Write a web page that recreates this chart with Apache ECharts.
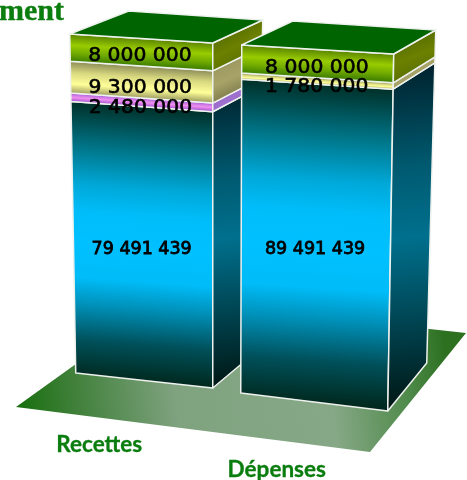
<!DOCTYPE html>
<html><head><meta charset="utf-8">
<style>html,body{margin:0;padding:0;background:#fff}#c{width:467px;height:480px}</style>
<script src="https://cdn.jsdelivr.net/npm/echarts@6/dist/echarts.min.js"></script>
</head><body><div id="c"></div>
<script>
// ---- data ----
const categories = ['Recettes', 'Dépenses'];
const bleu  = [79491439, 89491439];
const rose  = [2480000, 0];
const jaune = [9300000, 1780000];
const vert  = [8000000, 8000000];
const titleFragment = 'ment';

// ---- drawing: perspective box, offsets from category centre and axis zero ----
const box = [
  {fbl:[-65.5,-15], fbr:[71.5,0], ftl:[-71.5,-354], ftr:[71.5,-345], bbr:[114.5,-36], btr:[121.5,-368], btl:[-12.5,-377], labelU:.49, nameDx:-42, nameDy:57},
  {fbl:[-75,5], fbr:[72,23], ftl:[-74,-343], ftr:[78,-334], bbr:[111,-25], btr:[120,-358], btl:[-23,-367], labelU:.495, nameDx:-39, nameDy:82}
];
const labelShift = [6.5, 6, 6.5, 4];
const palette = {
  bleu:  {front:[[0,'#003028'],[.17,'#00788c'],[.30,'#00a8d8'],[.40,'#00bdfa'],[.52,'#00c0ff'],[.64,'#00bcf8'],[.74,'#0090b8'],[.87,'#00505a'],[1,'#002a20']],
          side:[[0,'#00202a'],[.3,'#005a70'],[.5,'#00708e'],[.7,'#004c5c'],[1,'#001410']]},
  rose:  {front:[[0,'#a860d8'],[.5,'#f090f0'],[1,'#a050d0']], side:[[0,'#9060c0'],[.5,'#a070d0'],[1,'#704090']]},
  jaune: {front:[[0,'#8c8c58'],[.35,'#d8d880'],[.7,'#ffff99'],[1,'#9c9c60']], side:[[0,'#8f8c58'],[.5,'#a8a468'],[1,'#605c38']]},
  vert:  {front:[[0,'#5a8400'],[.4,'#99cc00'],[.7,'#70aa00'],[1,'#3c7c00']], side:[[0,'#4c6400'],[.5,'#6c8000'],[1,'#506800']]}
};
const stack = [['bleu',bleu],['rose',rose],['jaune',jaune],['vert',vert]];
const total = Math.max(...categories.map((_, i) => stack.reduce((s, [, a]) => s + a[i], 0)));
const rows = [];
categories.forEach((_, i) => {
  let acc = 0;
  stack.forEach(([name, arr], k) => {
    if (arr[i] > 0) { rows.push([i, acc, acc + arr[i], k]); acc += arr[i]; }
  });
});
const lerp = (a, b, t) => [a[0] + (b[0] - a[0]) * t, a[1] + (b[1] - a[1]) * t];
const fmt = v => String(v).replace(/\B(?=(\d{3})+(?!\d))/g, ' ');
const WHITE = {stroke:'#eef2ee', lineWidth:1.5, lineJoin:'round'};

function renderItem(params, api) {
  const cat = api.value(0), v0 = api.value(1), v1 = api.value(2), k = api.value(3);
  const b = box[cat], name = stack[k][0], pal = palette[name];
  const origin = api.coord([cat, 0]);
  const yTop = api.coord([cat, total])[1];
  const frac = v => (origin[1] - api.coord([cat, v])[1]) / (origin[1] - yTop);
  const abs = o => [origin[0] + o[0], origin[1] + o[1]];
  const fbl = abs(b.fbl), fbr = abs(b.fbr), ftl = abs(b.ftl), ftr = abs(b.ftr), bbr = abs(b.bbr), btr = abs(b.btr), btl = abs(b.btl);
  const h0 = frac(v0), h1 = frac(v1);
  const fl0 = lerp(fbl, ftl, h0), fl1 = lerp(fbl, ftl, h1), fr0 = lerp(fbr, ftr, h0), fr1 = lerp(fbr, ftr, h1);
  const br0 = lerp(bbr, btr, h0), br1 = lerp(bbr, btr, h1);
  // gradient on the front follows the tilt of the segment edges
  const c1 = lerp(fl1, fr1, .5), c0 = lerp(fl0, fr0, .5);
  const dx = fr1[0] - fl1[0], dy = fr1[1] - fl1[1], len = Math.hypot(dx, dy), nx = -dy / len, ny = dx / len;
  const d = (c0[0] - c1[0]) * nx + (c0[1] - c1[1]) * ny;
  const stops = s => s.map(([offset, color]) => ({offset, color}));
  const children = [
    {type:'polygon', shape:{points:[fl1, fr1, fr0, fl0]}, style:{...WHITE,
      fill:{type:'linear', global:true, x:c1[0], y:c1[1], x2:c1[0] + nx * d, y2:c1[1] + ny * d, colorStops:stops(pal.front)}}},
    {type:'polygon', shape:{points:[fr1, br1, br0, fr0]}, style:{...WHITE,
      fill:{type:'linear', x:.25, y:0, x2:.75, y2:1, colorStops:stops(pal.side)}}}
  ];
  if (v1 >= total) {
    children.push({type:'polygon', shape:{points:[ftl, btl, btr, ftr]}, style:{...WHITE, fill:'#006400'}});
  }
  return {type:'group', children};
}
function renderLabels(params, api) {
  const cat = api.value(0), v0 = api.value(1), v1 = api.value(2), k = api.value(3);
  const b = box[cat];
  const origin = api.coord([cat, 0]);
  const yTop = api.coord([cat, total])[1];
  const frac = v => (origin[1] - api.coord([cat, v])[1]) / (origin[1] - yTop);
  const abs = o => [origin[0] + o[0], origin[1] + o[1]];
  const mid = (frac(v0) + frac(v1)) / 2;
  const p = lerp(lerp(abs(b.fbl), abs(b.ftl), mid), lerp(abs(b.fbr), abs(b.ftr), mid), b.labelU);
  const big = k === 0;
  const children = [{type:'text', x:p[0], y:p[1] + labelShift[k], scaleX: big ? 1 : 1.07, originX:0, style:{
    text:fmt(v1 - v0), fill:'#000', stroke:'#000', lineWidth: big ? .8 : .6,
    font:(big ? 17.5 : 19) + 'px "DejaVu Sans"', align:'center', verticalAlign:'middle'}}];
  if (k === 0) {
    children.push({type:'text', x:origin[0] + b.nameDx, y:origin[1] + b.nameDy, style:{
      text:categories[cat], fill:'#0a7d0e', stroke:'#0a7d0e', lineWidth:.3, font:'bold 22.5px Lato', align:'center', verticalAlign:'middle'}});
  }
  return {type:'group', children};
}

const chart = echarts.init(document.getElementById('c'), null, {renderer:'canvas'});
chart.setOption({
  animation:false,
  backgroundColor:'#fff',
  grid:{left:54, right:64, top:43, bottom:92},
  xAxis:{type:'category', data:categories, show:false},
  yAxis:{type:'value', min:0, max:total, show:false},
  graphic:[
    {type:'polygon', z:0, shape:{points:[[16,407],[165,300],[466,333],[370,452]]},
     style:{fill:{type:'linear', global:true, x:20, y:400, x2:445, y2:345, colorStops:[
       {offset:0,color:'#1a7010'},{offset:.12,color:'#3e7f38'},{offset:.36,color:'#7fa27f'},{offset:.72,color:'#86a886'},{offset:.9,color:'#4f8a4a'},{offset:1,color:'#2c7020'}]}}},
    {type:'text', z:5, x:-1, y:12, style:{text:titleFragment, fill:'#0a7d0e', stroke:'#0a7d0e', lineWidth:.4,
      font:'bold 30px "Liberation Serif"', verticalAlign:'middle'}}
  ],
  series:[
    {type:'custom', z:2, coordinateSystem:'cartesian2d', renderItem, data:rows, clip:false, silent:true},
    {type:'custom', z:3, coordinateSystem:'cartesian2d', renderItem:renderLabels, data:rows, clip:false, silent:true}
  ]
});
</script></body></html>
